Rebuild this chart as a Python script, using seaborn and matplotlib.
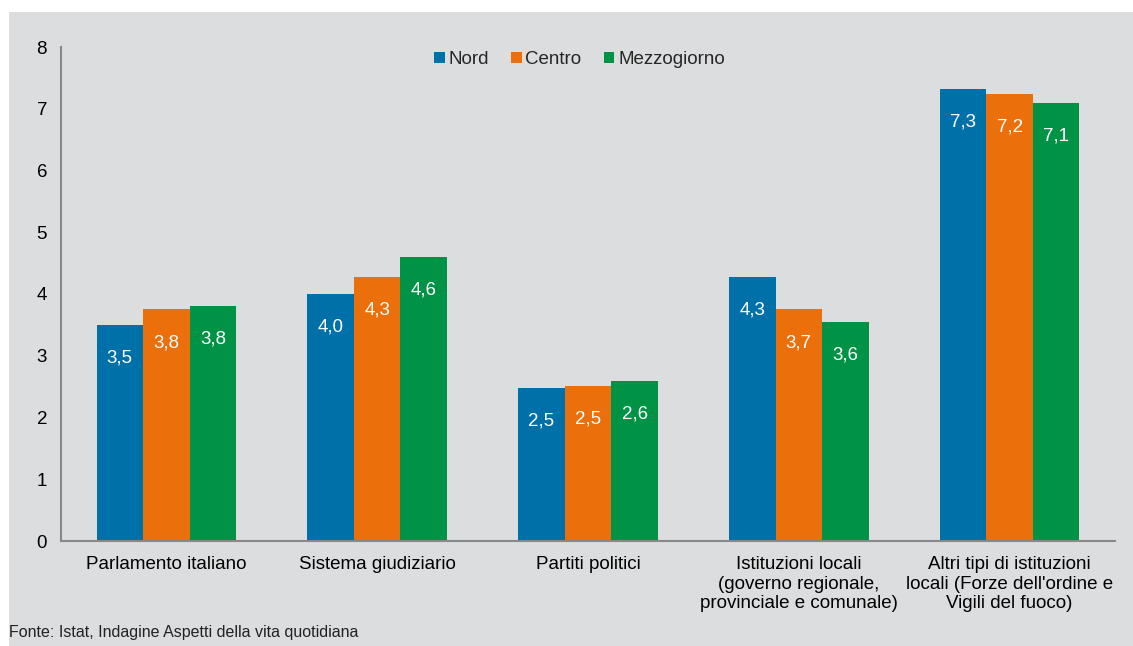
import matplotlib
matplotlib.use("Agg")
import matplotlib.pyplot as plt
import seaborn as sns
import pandas as pd
from matplotlib.patches import Rectangle

categories = [
    "Parlamento italiano",
    "Sistema giudiziario",
    "Partiti politici",
    "Istituzioni locali\n(governo regionale,\nprovinciale e comunale)",
    "Altri tipi di istituzioni\nlocali (Forze dell'ordine e\nVigili del fuoco)",
]
series = ["Nord", "Centro", "Mezzogiorno"]
nord = [3.50, 4.00, 2.48, 4.28, 7.32]
centro = [3.75, 4.28, 2.51, 3.75, 7.24]
mezzogiorno = [3.81, 4.60, 2.59, 3.55, 7.09]
nord_labels = ["3,5", "4,0", "2,5", "4,3", "7,3"]
centro_labels = ["3,8", "4,3", "2,5", "3,7", "7,2"]
mezzogiorno_labels = ["3,8", "4,6", "2,6", "3,6", "7,1"]
yticks = [0, 1, 2, 3, 4, 5, 6, 7, 8]
source = "Fonte: Istat, Indagine Aspetti della vita quotidiana"

colors = {"Nord": "#0070a8", "Centro": "#eb6f0a", "Mezzogiorno": "#009245"}
bg = "#dcdddf"

rows = []
for s, vals in zip(series, [nord, centro, mezzogiorno]):
    for c, v in zip(categories, vals):
        rows.append({"cat": c, "serie": s, "val": v})
df = pd.DataFrame(rows)

sns.set_style("white")
plt.rcParams["font.family"] = ["Liberation Sans", "DejaVu Sans"]

fig = plt.figure(figsize=(11.33, 6.46), dpi=100)
fig.patch.set_facecolor("white")
fig.patches.append(Rectangle((9 / 1133, 0), 1 - 9 / 1133, 1 - 12 / 646,
                             transform=fig.transFigure, facecolor=bg,
                             edgecolor="none", zorder=-10))
ax = fig.add_axes([61 / 1133, 105 / 646, (1115 - 61) / 1133, (541 - 47) / 646])
ax.set_facecolor(bg)
ax.patch.set_alpha(0)

sns.barplot(data=df, x="cat", y="val", hue="serie", order=categories,
            hue_order=series, palette=colors, width=0.663, gap=0,
            saturation=1, linewidth=0, ax=ax, legend=True)

ax.set_ylim(0, 8)
ax.set_xlim(-0.5, 4.5)
ax.set_yticks(yticks)
ax.set_yticklabels([str(t) for t in yticks], fontsize=13.5)
ax.set_xlabel("")
ax.set_ylabel("")

for sp in ["top", "right"]:
    ax.spines[sp].set_visible(False)
for sp in ["left", "bottom"]:
    ax.spines[sp].set_color("#888888")
    ax.spines[sp].set_linewidth(1.5)

ax.tick_params(axis="y", length=4, width=1, color="#888888", pad=6, labelcolor="black")
ax.set_xticks(range(len(categories)))
ax.set_xticklabels(categories, fontsize=13.5, linespacing=1.2)
ax.tick_params(axis="x", which="major", length=0, pad=11, labelcolor="black")
ax.set_xticks([i - 0.5 for i in range(len(categories) + 1)], minor=True)
ax.tick_params(axis="x", which="minor", length=5, width=1.5, color="#888888", direction="out")

label_sets = [nord_labels, centro_labels, mezzogiorno_labels]
for cont, labs in zip(ax.containers, label_sets):
    ax.bar_label(cont, labels=labs, label_type="edge", padding=-30,
                 color="white", fontsize=13.5)

handles, labels = ax.get_legend_handles_labels()
ax.legend(handles, labels, loc="center", bbox_to_anchor=(0.492, 0.975), ncol=3,
          frameon=False, fontsize=13.5, handlelength=0.55, handleheight=0.55,
          handletextpad=0.2, columnspacing=1.2)

fig.text(9 / 1133, 1 - 632 / 646, source, fontsize=11.5, va="center", ha="left",
         color="#222222")

fig.savefig("out.png", dpi=100, facecolor=fig.get_facecolor())
